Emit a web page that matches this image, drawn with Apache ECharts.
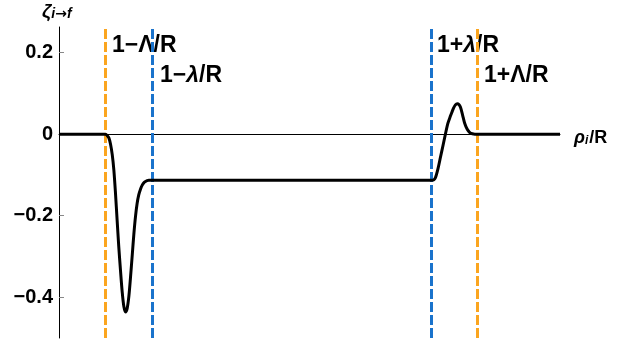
<!DOCTYPE html>
<html>
<head>
<meta charset="utf-8">
<script src="https://cdn.jsdelivr.net/npm/echarts@6/dist/echarts.min.js"></script>
<style>
  html, body { margin: 0; padding: 0; background: #fff; }
  #chart { width: 624px; height: 347px; }
</style>
</head>
<body>
<div id="chart"></div>
<script>
// Radial profile rho_i/R and displacement zeta_{i->f}
const rho  = [0, 0.19, 0.2, 0.207, 0.2145, 0.2215, 0.229, 0.236, 0.243, 0.250, 0.257, 0.2645, 0.272, 0.279, 0.286, 0.293, 0.3005, 0.3075, 0.315, 0.322, 0.329, 0.336, 0.343, 0.3505, 0.358, 0.365, 0.372, 0.379, 0.386, 0.394, 0.41,
              1.59, 1.605, 1.612, 1.619, 1.63, 1.641, 1.652, 1.662, 1.673, 1.684, 1.69, 1.697, 1.705, 1.713, 1.72, 1.727, 1.736, 1.745, 1.756, 1.767, 1.778, 1.789, 1.8, 2.155];
const zeta = [0, 0, 0, -0.003, -0.009, -0.024, -0.05, -0.088, -0.145, -0.211, -0.275, -0.334, -0.388, -0.423, -0.436, -0.428, -0.398, -0.352, -0.297, -0.245, -0.202, -0.170, -0.149, -0.135, -0.125, -0.119, -0.116, -0.114, -0.113, -0.113, -0.113,
              -0.113, -0.113, -0.112, -0.107, -0.085, -0.056, -0.027, 0, 0.027, 0.045, 0.054, 0.064, 0.072, 0.075, 0.073, 0.066, 0.047, 0.027, 0.012, 0.004, 0.001, 0, 0, 0];

// Boundary positions: 1 ± Λ/R (orange) and 1 ± λ/R (blue)
const bigLambda = 0.8;
const smallLambda = 0.6;
const orangeLines = [1 - bigLambda, 1 + bigLambda];
const blueLines = [1 - smallLambda, 1 + smallLambda];

const yTicks = [-0.4, -0.2, 0, 0.2];

const FONT = '"Liberation Sans", Arial, sans-serif';
const chart = echarts.init(document.getElementById('chart'), null, { renderer: 'canvas' });

const dash = (x, color) => ({
  xAxis: x,
  lineStyle: { color: color, width: 3, type: [10, 3] }
});

chart.setOption({
  backgroundColor: '#ffffff',
  animation: false,
  grid: { left: 59, right: 64, top: 27, bottom: 9, containLabel: false },
  xAxis: {
    type: 'value',
    min: 0,
    max: 2.155,
    axisLine: { onZero: true, lineStyle: { color: '#000', width: 1 } },
    axisTick: { show: false },
    axisLabel: { show: false },
    splitLine: { show: false }
  },
  yAxis: {
    type: 'value',
    min: -0.5,
    max: 0.263,
    axisLine: { show: true, onZero: false, lineStyle: { color: '#000', width: 1 } },
    axisTick: { show: true, inside: true, length: 5, customValues: yTicks, lineStyle: { color: '#888', width: 1 } },
    axisLabel: {
      customValues: yTicks,
      fontFamily: FONT, fontWeight: 'bold', fontSize: 20, color: '#000', margin: 6,
      formatter: v => v === 0 ? '0' : (v < 0 ? '\u2212' + (-v).toFixed(1) : v.toFixed(1))
    },
    splitLine: { show: false }
  },
  series: [{
    type: 'line',
    data: rho.map((x, i) => [x, zeta[i]]),
    showSymbol: false,
    smooth: 0.3,
    lineStyle: { color: '#000', width: 3, join: 'round' },
    z: 3,
    markLine: {
      silent: true,
      symbol: 'none',
      label: { show: false },
      data: [
        dash(orangeLines[0], '#FBA51F'),
        dash(orangeLines[1], '#FBA51F'),
        dash(blueLines[0], '#1A73CC'),
        dash(blueLines[1], '#1A73CC')
      ],
      z: 2
    }
  }],
  graphic: [
    { type: 'text', left: 112, top: 34, style: { text: '1\u2212\u039B/R', font: 'bold 23px ' + FONT, fill: '#000' } },
    { type: 'text', left: 160, top: 64, style: { text: '{a|1\u2212}{b|\u03BB}{a|/R}', rich: {
        a: { font: 'bold 23px ' + FONT, fill: '#000' },
        b: { font: 'italic bold 23px ' + FONT, fill: '#000' } } } },
    { type: 'text', left: 437, top: 34, style: { text: '{a|1+}{b|\u03BB}{a|/R}', rich: {
        a: { font: 'bold 23px ' + FONT, fill: '#000' },
        b: { font: 'italic bold 23px ' + FONT, fill: '#000' } } } },
    { type: 'text', left: 484, top: 64, style: { text: '1+\u039B/R', font: 'bold 23px ' + FONT, fill: '#000' } },
    { type: 'text', left: 574, top: 129, style: { text: '{b|\u03C1}{s|i}{a|/R}', rich: {
        a: { font: 'bold 18px ' + FONT, fill: '#000', verticalAlign: 'bottom' },
        b: { font: 'italic bold 18px ' + FONT, fill: '#000', verticalAlign: 'bottom' },
        s: { font: 'italic bold 12px ' + FONT, fill: '#000', verticalAlign: 'bottom', padding: [0, 1, 0, 0] } } } },
    { type: 'text', left: 42, top: 2, style: { text: '{b|\u03B6}{s|i}{r|\u2192}{s|f}', rich: {
        b: { font: 'italic bold 19px ' + FONT, fill: '#000', verticalAlign: 'bottom' },
        s: { font: 'italic bold 14px ' + FONT, fill: '#000', verticalAlign: 'bottom' },
        r: { font: 'bold 14px "DejaVu Sans", sans-serif', fill: '#000', verticalAlign: 'bottom' } } } }
  ]
});
</script>
</body>
</html>
